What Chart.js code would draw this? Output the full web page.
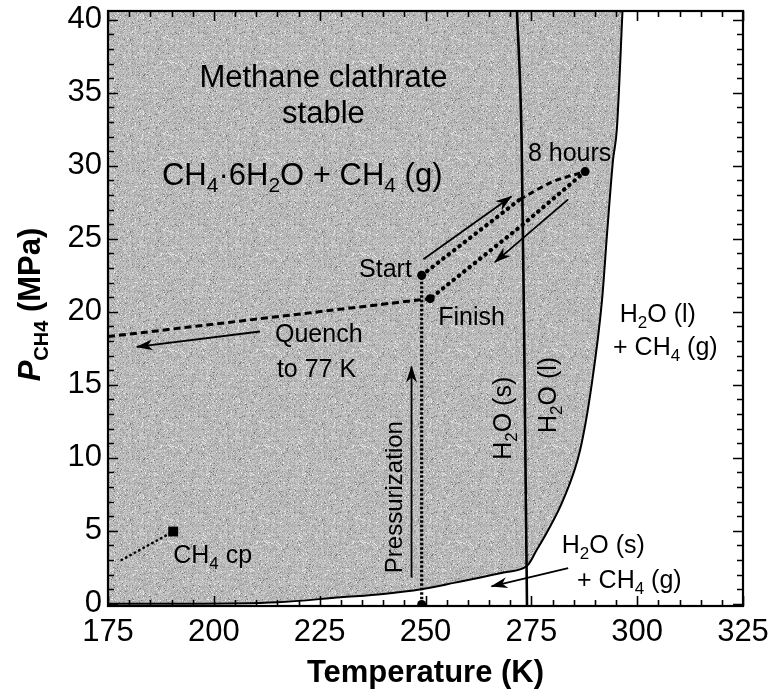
<!DOCTYPE html>
<html><head><meta charset="utf-8">
<script src="https://cdn.jsdelivr.net/npm/chart.js@4.4.1/dist/chart.umd.min.js"></script>
<style>html,body{margin:0;padding:0;background:#fff}#wrap{width:769px;height:693px;position:relative}</style>
</head><body><div id="wrap"><canvas id="c"></canvas></div>
<script>
// ---------------- data ----------------
// clathrate dissociation curve (T in K, P in MPa)
const curveT = [175, 194, 215, 230, 240, 249, 257, 263, 268.5, 274, 276.3, 278.7, 282.5, 286.5, 289.3, 291.7, 292.9, 294.3, 295.2, 296.6];
const curveP = [0, 0, 0.1, 0.45, 0.68, 1.0, 1.45, 1.8, 2.15, 2.6, 3.7, 4.9, 7.1, 10.5, 15.1, 20.8, 25.4, 30.4, 32.5, 41];
// ice / liquid water boundary
const meltT = [273.98, 273.6, 273.27, 272.7, 271.55];
const meltP = [-0.2, 10, 19.5, 31.8, 41];
// experiment path
const pressT = [249.1, 249.1];          const pressP = [0, 22.5];
const heatDotT = [249.1, 272.3];        const heatDotP = [22.5, 27.7];
const heatDashT = [272.3, 280, 287.7];  const heatDashP = [27.7, 28.9, 29.6];
const coolT = [287.7, 273.1, 251.1];    const coolP = [29.6, 26.0, 20.9];
const quenchT = [175, 251.1];           const quenchP = [18.3, 20.9];
const markT = [249.1, 251.1, 287.7, 249.1]; const markP = [22.5, 20.9, 29.6, -0.05];
// methane critical point
const cpT = [190.4];                    const cpP = [4.95];
const cpLineT = [178.2, 190.4];         const cpLineP = [3.0, 4.95];
// arrows (tail -> head)
const quenchArrowT = [210.9, 181.8];    const quenchArrowP = [18.65, 17.6];
const pressArrowT = [246.7, 246.7];     const pressArrowP = [1.8, 16.25];
const heatArrowT = [249.5, 270.3];      const heatArrowP = [23.6, 27.9];
const coolArrowT = [283.7, 266.4];      const coolArrowP = [27.7, 23.4];
const iceArrowT = [283.7, 265.6];       const iceArrowP = [2.45, 1.2];
// axis ticks
const xTicks = [175, 200, 225, 250, 275, 300, 325];
const yTicks = [0, 5, 10, 15, 20, 25, 30, 35, 40];

// ---------------- annotations (text) ----------------
const FONT = '"Liberation Sans", Arial, Helvetica, sans-serif';
const textLabels = [
  {text: 'Methane clathrate', x: 225.9, y: 35.4, size: 31, align: 'center'},
  {text: 'stable', x: 225.9, y: 32.9, size: 31, align: 'center'},
  {text: 'CH_4·6H_2O + CH_4 (g)', x: 187.75, y: 28.7, size: 31, align: 'left'},
  {text: '8 hours', x: 274.2, y: 30.3, size: 25, align: 'left'},
  {text: 'Start', x: 234.3, y: 22.4, size: 25, align: 'left'},
  {text: 'Finish', x: 253.0, y: 19.1, size: 25, align: 'left'},
  {text: 'Quench', x: 214.45, y: 17.9, size: 25, align: 'left'},
  {text: 'to 77 K', x: 214.9, y: 15.5, size: 25, align: 'left'},
  {text: 'H_2O (l)', x: 295.9, y: 19.3, size: 25, align: 'left'},
  {text: '+ CH_4 (g)', x: 294.3, y: 17.05, size: 25, align: 'left'},
  {text: 'H_2O (s)', x: 282.2, y: 3.5, size: 25, align: 'left'},
  {text: '+ CH_4 (g)', x: 285.8, y: 1.1, size: 25, align: 'left'},
  {text: 'CH_4 cp', x: 190.4, y: 2.8, size: 25, align: 'left'},
  {text: 'Pressurization', x: 244.45, y: 2.1, size: 24, align: 'left', rot: true},
  {text: 'H_2O (s)', x: 270.2, y: 9.86, size: 25, align: 'left', rot: true},
  {text: 'H_2O (l)', x: 280.8, y: 11.7, size: 25, align: 'left', rot: true}
];

const pts = (T, P) => T.map((t, i) => ({x: t, y: P[i]}));

// stipple texture for the clathrate-stable field
function makeStipple() {
  const n = 96, c = document.createElement('canvas');
  c.width = c.height = n;
  const g = c.getContext('2d');
  const img = g.createImageData(n, n);
  for (let y = 0; y < n; y++) for (let x = 0; x < n; x++) {
    let h = (Math.imul(x, 374761393) + Math.imul(y, 668265263)) >>> 0;
    h = Math.imul(h ^ (h >>> 13), 1274126177) >>> 0;
    h = (h ^ (h >>> 16)) >>> 0;
    const r = (h & 1023) / 1023;
    let v = 186 + Math.round((r - 0.5) * 50);
    if (r > 0.97) v = 238;
    if (r < 0.02) v = 120;
    if (((x % 6) === 0) && ((y % 6) === 3) && r > 0.5) v = 145;
    const k = (y * n + x) * 4;
    img.data[k] = img.data[k + 1] = img.data[k + 2] = v;
    img.data[k + 3] = 255;
  }
  g.putImageData(img, 0, 0);
  return g.createPattern(c, 'repeat');
}

function drawRich(ctx, text, x, y, size, align, bold) {
  const segs = []; let buf = '';
  for (let i = 0; i < text.length; i++) {
    if (text[i] === '_') { if (buf) { segs.push({t: buf, sub: false}); buf = ''; } segs.push({t: text[i + 1], sub: true}); i++; }
    else buf += text[i];
  }
  if (buf) segs.push({t: buf, sub: false});
  const fMain = (bold ? 'bold ' : '') + size + 'px ' + FONT;
  const fSub = (bold ? 'bold ' : '') + Math.round(size * 0.68) + 'px ' + FONT;
  let w = 0;
  for (const s of segs) { ctx.font = s.sub ? fSub : fMain; s.w = ctx.measureText(s.t).width; w += s.w; }
  let cx = align === 'center' ? x - w / 2 : align === 'right' ? x - w : x;
  ctx.textAlign = 'left'; ctx.textBaseline = 'alphabetic';
  for (const s of segs) { ctx.font = s.sub ? fSub : fMain; ctx.fillText(s.t, cx, y + (s.sub ? size * 0.24 : 0)); cx += s.w; }
}

const arrowPlugin = {
  id: 'arrowHeads',
  afterDatasetsDraw(chart) {
    const ctx = chart.ctx;
    chart.data.datasets.forEach((ds, i) => {
      if (!ds.arrowHead) return;
      const el = chart.getDatasetMeta(i).data;
      const a = el[el.length - 2], b = el[el.length - 1];
      const ang = Math.atan2(b.y - a.y, b.x - a.x);
      const L = 16, W = 5.5;
      ctx.save();
      ctx.translate(b.x, b.y); ctx.rotate(ang);
      ctx.fillStyle = '#000';
      ctx.beginPath();
      ctx.moveTo(1, 0); ctx.lineTo(-L, -W); ctx.lineTo(-L + 5, 0); ctx.lineTo(-L, W); ctx.closePath();
      ctx.fill();
      ctx.restore();
    });
  }
};

const framePlugin = {
  id: 'frame',
  afterDatasetsDraw(chart) {
    const {ctx, chartArea: a, scales: {x, y}} = chart;
    ctx.save();
    ctx.strokeStyle = '#000';
    ctx.lineWidth = 1.6;
    for (let t = 175; t <= 325; t += 5) {
      const px = Math.round(x.getPixelForValue(t)) + 0.5;
      const len = (t % 25 === 0) ? 10 : 6;
      ctx.beginPath(); ctx.moveTo(px, a.bottom); ctx.lineTo(px, a.bottom - len);
      ctx.moveTo(px, a.top); ctx.lineTo(px, a.top + len); ctx.stroke();
    }
    for (let p = 0; p <= 40; p += 1) {
      const py = Math.round(y.getPixelForValue(p)) + 0.5;
      const len = (p % 5 === 0) ? 10 : 6;
      ctx.beginPath(); ctx.moveTo(a.left, py); ctx.lineTo(a.left + len, py);
      ctx.moveTo(a.right, py); ctx.lineTo(a.right - len, py); ctx.stroke();
    }
    ctx.lineWidth = 2.2;
    ctx.strokeRect(a.left, a.top, a.right - a.left, a.bottom - a.top);
    ctx.restore();
  },
  afterDraw(chart) {
    const {ctx, scales: {x, y}, chartArea: a} = chart;
    ctx.save();
    ctx.fillStyle = '#000';
    for (const L of textLabels) {
      const px = x.getPixelForValue(L.x), py = y.getPixelForValue(L.y);
      if (L.rot) {
        ctx.save(); ctx.translate(px, py); ctx.rotate(-Math.PI / 2);
        drawRich(ctx, L.text, 0, 0, L.size, L.align, false);
        ctx.restore();
      } else drawRich(ctx, L.text, px, py, L.size, L.align, false);
    }
    // y-axis title: P_CH4 (MPa)
    const segs = [
      {t: 'P', f: 'italic bold 31px ' + FONT, dy: 0},
      {t: 'CH4', f: 'bold 20px ' + FONT, dy: 8},
      {t: ' (MPa)', f: 'bold 31px ' + FONT, dy: 0}
    ];
    let w = 0;
    for (const s of segs) { ctx.font = s.f; s.w = ctx.measureText(s.t).width; w += s.w; }
    ctx.translate(40, (a.top + a.bottom) / 2 - 4);
    ctx.rotate(-Math.PI / 2);
    let cx = -w / 2;
    ctx.textAlign = 'left'; ctx.textBaseline = 'alphabetic';
    for (const s of segs) { ctx.font = s.f; ctx.fillText(s.t, cx, s.dy); cx += s.w; }
    ctx.restore();
  }
};

const stipple = makeStipple();
const line = (data, extra) => Object.assign({data, showLine: true, pointRadius: 0, borderColor: '#000', borderWidth: 2, fill: false}, extra);

new Chart(document.getElementById('c'), {
  type: 'scatter',
  data: {
    datasets: [
      line(pts(quenchArrowT, quenchArrowP), {borderWidth: 1.8, arrowHead: true}),
      line(pts(pressArrowT, pressArrowP), {borderWidth: 1.8, arrowHead: true}),
      line(pts(heatArrowT, heatArrowP), {borderWidth: 1.8, arrowHead: true}),
      line(pts(coolArrowT, coolArrowP), {borderWidth: 1.8, arrowHead: true}),
      line(pts(iceArrowT, iceArrowP), {borderWidth: 1.8, arrowHead: true}),
      {data: pts(cpT, cpP), pointStyle: 'rect', pointRadius: 7, backgroundColor: '#000', borderColor: '#000', borderWidth: 0},
      line(pts(cpLineT, cpLineP), {borderWidth: 2.5, borderDash: [0.5, 4.5], borderCapStyle: 'round'}),
      {data: pts(markT, markP), pointRadius: 4.5, backgroundColor: '#000', borderColor: '#000', borderWidth: 0},
      line(pts(heatDotT, heatDotP), {borderWidth: 4.2, borderDash: [0.5, 6.3], borderCapStyle: 'round'}),
      line(pts(heatDashT, heatDashP), {borderWidth: 3, borderDash: [6, 4], cubicInterpolationMode: 'monotone'}),
      line(pts(coolT, coolP), {borderWidth: 4.2, borderDash: [0.5, 6.3], borderCapStyle: 'round'}),
      line(pts(quenchT, quenchP), {borderWidth: 3, borderDash: [7, 4]}),
      line(pts(pressT, pressP), {borderWidth: 3.2, borderDash: [2.5, 2]}),
      line(pts(meltT, meltP), {borderWidth: 2.6, cubicInterpolationMode: 'monotone'}),
      line(pts(curveT, curveP), {borderWidth: 2, fill: 'end', backgroundColor: stipple, cubicInterpolationMode: 'monotone'})
    ]
  },
  options: {
    responsive: true, maintainAspectRatio: false, animation: false,
    layout: {padding: {left: 0, right: 26, top: 11, bottom: 0}},
    plugins: {legend: {display: false}, tooltip: {enabled: false}},
    scales: {
      x: {
        type: 'linear', min: 175, max: 325,
        grid: {display: false, drawTicks: false}, border: {display: false},
        afterBuildTicks: s => { s.ticks = xTicks.map(v => ({value: v})); },
        afterFit: s => { s.height = 87; s.paddingLeft = 0; s.paddingRight = 0; },
        ticks: {color: '#000', font: {size: 31, family: FONT}, padding: 8, maxRotation: 0, autoSkip: false},
        title: {display: true, text: 'Temperature (K)', color: '#000', font: {size: 31, weight: 'bold', family: FONT}, padding: {top: 0, bottom: 1}}
      },
      y: {
        type: 'linear', min: -0.15, max: 40.6,
        grid: {display: false, drawTicks: false}, border: {display: false},
        afterBuildTicks: s => { s.ticks = yTicks.map(v => ({value: v})); },
        afterFit: s => { s.width = 108; s.paddingTop = 0; s.paddingBottom = 0; },
        ticks: {color: '#000', font: {size: 31, family: FONT, lineHeight: 0.6}, padding: 6, autoSkip: false}
      }
    }
  },
  plugins: [arrowPlugin, framePlugin]
});
</script></body></html>
